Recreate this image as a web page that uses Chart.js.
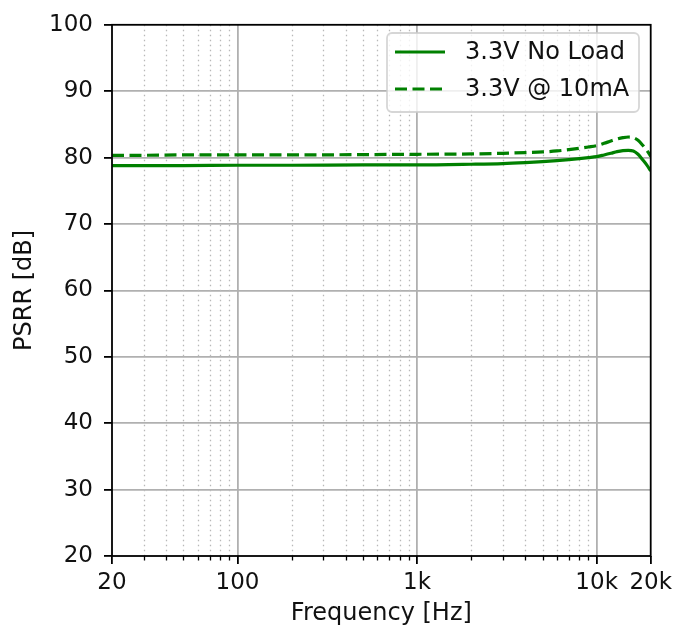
<!DOCTYPE html>
<html>
<head>
<meta charset="utf-8">
<script src="https://cdn.jsdelivr.net/npm/chart.js@4/dist/chart.umd.min.js"></script>
<style>
  html, body { margin: 0; padding: 0; background: #fff; }
  #wrap { width: 677px; height: 631px; }
</style>
</head>
<body>
<div id="wrap"><canvas id="psrrChart" width="677" height="631"></canvas></div>
<script>
// PSRR vs frequency, two load conditions
var freqHz = [20, 30, 50, 100, 200, 500, 1000, 2000, 3000, 4000, 5000, 6000, 7000,
              8000, 9000, 10000, 11000, 12000, 13000, 14000, 15000, 16000, 17000,
              18000, 19000, 20000];
var noLoadDb = [78.8, 78.8, 78.8, 78.85, 78.85, 78.9, 78.9, 79.0, 79.1, 79.25, 79.4,
                79.55, 79.7, 79.85, 80.0, 80.15, 80.4, 80.65, 80.9, 81.05, 81.1,
                81.0, 80.5, 79.7, 78.9, 78.0];
var load10mADb = [80.35, 80.35, 80.4, 80.4, 80.4, 80.45, 80.5, 80.55, 80.65, 80.75,
                  80.85, 81.0, 81.2, 81.4, 81.6, 81.8, 82.15, 82.5, 82.8, 83.0, 83.1,
                  83.0, 82.6, 81.9, 81.1, 80.2];
var seriesLabels = ['3.3V No Load', '3.3V @ 10mA'];

var xMajorTicks = [20, 100, 1000, 10000, 20000];
var xMajorLabels = ['20', '100', '1k', '10k', '20k'];
var xMinorTicks = [30, 40, 50, 60, 70, 80, 90,
                   200, 300, 400, 500, 600, 700, 800, 900,
                   2000, 3000, 4000, 5000, 6000, 7000, 8000, 9000];
var yTicks = [20, 30, 40, 50, 60, 70, 80, 90, 100];

var GREEN = '#008000';
var GRID = '#b0b0b0';
var FONT = "'DejaVu Sans', sans-serif";

Chart.defaults.font.family = FONT;
Chart.defaults.font.size = 23;
Chart.defaults.color = '#111';

function pairs(xs, ys) {
    return xs.map(function (x, i) { return { x: x, y: ys[i] }; });
}

// minor grid (dotted) and minor tick marks on the frequency axis
var minorGrid = {
    id: 'minorGrid',
    beforeDatasetsDraw: function (chart) {
        var ctx = chart.ctx, area = chart.chartArea, xs = chart.scales.x;
        ctx.save();
        ctx.strokeStyle = '#b8b8b8';
        ctx.lineWidth = 1.3;
        ctx.setLineDash([1.5, 3.5]);
        xMinorTicks.forEach(function (v) {
            var px = Math.round(xs.getPixelForValue(v)) + 0.5;
            ctx.beginPath();
            ctx.moveTo(px, area.top);
            ctx.lineTo(px, area.bottom);
            ctx.stroke();
        });
        ctx.setLineDash([]);
        ctx.strokeStyle = '#000';
        ctx.lineWidth = 1.3;
        xMinorTicks.forEach(function (v) {
            var px = Math.round(xs.getPixelForValue(v)) + 0.5;
            ctx.beginPath();
            ctx.moveTo(px, area.bottom);
            ctx.lineTo(px, area.bottom + 4.5);
            ctx.stroke();
        });
        ctx.restore();
    }
};

// axes frame plus the boxed legend in the upper right
var frameAndLegend = {
    id: 'frameAndLegend',
    afterDatasetsDraw: function (chart) {
        var ctx = chart.ctx, area = chart.chartArea;
        ctx.save();
        ctx.strokeStyle = '#000';
        ctx.lineWidth = 1.8;
        ctx.strokeRect(area.left, area.top, area.right - area.left, area.bottom - area.top);

        var bx = 387, by = 33, bw = 252, bh = 79, r = 5;
        ctx.beginPath();
        ctx.moveTo(bx + r, by);
        ctx.arcTo(bx + bw, by, bx + bw, by + bh, r);
        ctx.arcTo(bx + bw, by + bh, bx, by + bh, r);
        ctx.arcTo(bx, by + bh, bx, by, r);
        ctx.arcTo(bx, by, bx + bw, by, r);
        ctx.closePath();
        ctx.fillStyle = 'rgba(255,255,255,0.8)';
        ctx.fill();
        ctx.strokeStyle = 'rgba(204,204,204,0.8)';
        ctx.lineWidth = 1.8;
        ctx.stroke();

        var rows = [52, 89];
        chart.data.datasets.forEach(function (ds, i) {
            var y = rows[i];
            ctx.strokeStyle = ds.borderColor;
            ctx.lineWidth = ds.borderWidth;
            ctx.setLineDash(ds.borderDash || []);
            ctx.beginPath();
            ctx.moveTo(395, y);
            ctx.lineTo(445, y);
            ctx.stroke();
            ctx.setLineDash([]);
            ctx.fillStyle = '#111';
            ctx.font = '24px ' + FONT;
            ctx.textAlign = 'left';
            ctx.textBaseline = 'middle';
            ctx.fillText(ds.label, 465, y + 1);
        });
        ctx.restore();
    }
};

new Chart(document.getElementById('psrrChart'), {
    type: 'line',
    data: {
        datasets: [{
            label: seriesLabels[0],
            data: pairs(freqHz, noLoadDb),
            borderColor: GREEN,
            borderWidth: 3.2,
            pointRadius: 0,
            cubicInterpolationMode: 'monotone',
            fill: false
        }, {
            label: seriesLabels[1],
            data: pairs(freqHz, load10mADb),
            borderColor: GREEN,
            borderWidth: 3.2,
            borderDash: [12, 5.5],
            pointRadius: 0,
            cubicInterpolationMode: 'monotone',
            fill: false
        }]
    },
    options: {
        responsive: false,
        animation: false,
        layout: { padding: { top: 20, right: 25, left: 0, bottom: 0 } },
        plugins: {
            legend: { display: false },
            tooltip: { enabled: false }
        },
        scales: {
            x: {
                type: 'logarithmic',
                min: 20,
                max: 20000,
                afterBuildTicks: function (axis) {
                    axis.ticks = xMajorTicks.map(function (v) { return { value: v }; });
                },
                afterFit: function (axis) { axis.height = 75; },
                ticks: {
                    autoSkip: false,
                    maxRotation: 0,
                    padding: 5,
                    callback: function (value) {
                        var i = xMajorTicks.indexOf(value);
                        return i === -1 ? '' : xMajorLabels[i];
                    }
                },
                grid: {
                    color: function (c) {
                        var v = c.tick ? c.tick.value : null;
                        return (v === 20 || v === 20000) ? 'rgba(0,0,0,0)' : GRID;
                    },
                    lineWidth: 1.8,
                    tickLength: 8,
                    tickWidth: 1.8,
                    tickColor: '#000'
                },
                border: { display: false },
                title: {
                    display: true,
                    text: 'Frequency [Hz]',
                    font: { size: 24 },
                    padding: { top: 0, bottom: 3 }
                }
            },
            y: {
                type: 'linear',
                min: 20,
                max: 100,
                afterBuildTicks: function (axis) {
                    axis.ticks = yTicks.map(function (v) { return { value: v }; });
                },
                afterFit: function (axis) { axis.width = 112; },
                ticks: { padding: 11 },
                grid: {
                    color: function (c) {
                        var v = c.tick ? c.tick.value : null;
                        return (v === 20 || v === 100) ? 'rgba(0,0,0,0)' : GRID;
                    },
                    lineWidth: 1.8,
                    tickLength: 8,
                    tickWidth: 1.8,
                    tickColor: '#000'
                },
                border: { display: false },
                title: {
                    display: true,
                    text: 'PSRR [dB]',
                    font: { size: 24 },
                    padding: { top: 10, bottom: 0 }
                }
            }
        }
    },
    plugins: [minorGrid, frameAndLegend]
});
</script>
</body>
</html>
